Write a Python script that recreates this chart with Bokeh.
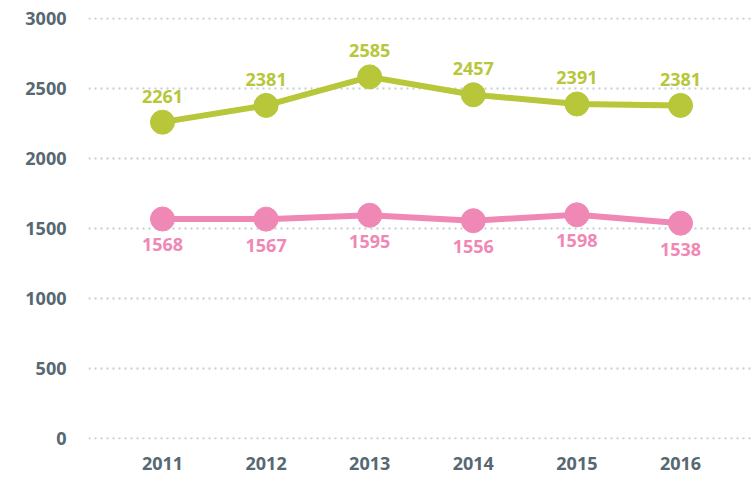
from bokeh.plotting import figure
from bokeh.models import ColumnDataSource, FixedTicker, Range1d, LabelSet
from bokeh.core.properties import value
from bokeh.embed import file_html
from bokeh.resources import INLINE

years = ["2011", "2012", "2013", "2014", "2015", "2016"]
green_vals = [2261, 2381, 2585, 2457, 2391, 2381]
pink_vals = [1568, 1567, 1595, 1556, 1598, 1538]
y_ticks = [0, 500, 1000, 1500, 2000, 2500, 3000]

GREEN = "#b8c63a"
PINK = "#f088b6"
AXIS_C = "#566872"
FONT = "Open Sans"

xs = list(range(len(years)))
src_g = ColumnDataSource(dict(x=xs, y=green_vals, t=[str(v) for v in green_vals]))
src_p = ColumnDataSource(dict(x=xs, y=pink_vals, t=[str(v) for v in pink_vals]))

p = figure(width=754, height=478, output_backend="svg", toolbar_location=None,
           x_range=Range1d(-0.714, 5.714), y_range=Range1d(-10, 3010),
           min_border_left=88, min_border_right=0, min_border_top=17, min_border_bottom=39)
p.outline_line_color = None
p.background_fill_color = "white"

p.line("x", "y", source=src_g, line_color=GREEN, line_width=6)
p.scatter("x", "y", source=src_g, size=24, fill_color=GREEN, line_color=GREEN)
p.line("x", "y", source=src_p, line_color=PINK, line_width=6)
p.scatter("x", "y", source=src_p, size=24, fill_color=PINK, line_color=PINK)

lg = LabelSet(x="x", y="y", text="t", source=src_g, y_offset=26, text_align="center",
              text_baseline="middle", text_color=GREEN, text_font=value(FONT),
              text_font_size="18px", text_font_style="bold")
lp = LabelSet(x="x", y="y", text="t", source=src_p, y_offset=-26, text_align="center",
              text_baseline="middle", text_color=PINK, text_font=value(FONT),
              text_font_size="18px", text_font_style="bold")
p.add_layout(lg)
p.add_layout(lp)

p.xgrid.grid_line_color = None
p.ygrid.grid_line_color = "#c3ccd1"
p.ygrid.grid_line_width = 2
p.ygrid.grid_line_dash = "2 4"

p.xaxis.ticker = FixedTicker(ticks=xs)
p.xaxis.major_label_overrides = {i: y for i, y in enumerate(years)}
p.yaxis.ticker = FixedTicker(ticks=y_ticks)

for ax in (p.xaxis, p.yaxis):
    ax.axis_line_color = None
    ax.major_tick_line_color = None
    ax.minor_tick_line_color = None
    ax.major_tick_out = 0
    ax.major_label_text_color = AXIS_C
    ax.major_label_text_font = FONT
    ax.major_label_text_font_style = "bold"

p.xaxis.major_label_standoff = 17
p.xaxis.major_label_text_font_size = "18px"
p.yaxis.major_label_text_font_size = "18px"
p.yaxis.major_label_standoff = 22

open("out.html", "w").write(file_html(p, INLINE))
